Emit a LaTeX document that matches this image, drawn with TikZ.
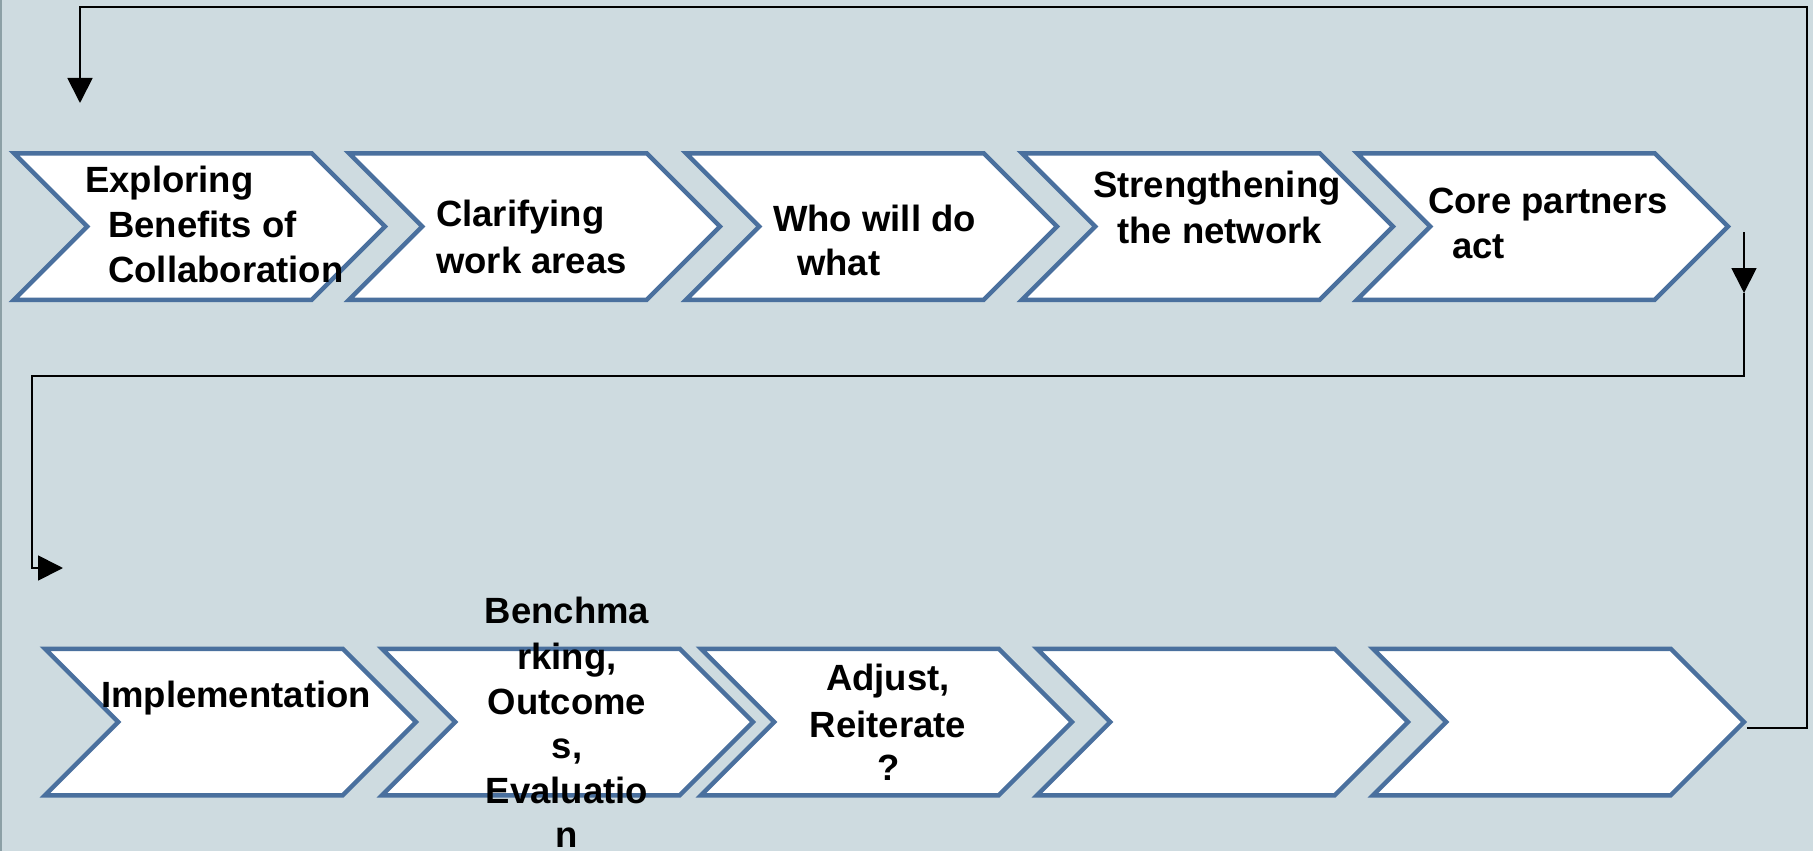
\documentclass[tikz,border=0pt]{standalone}
\usepackage{fontspec}
\setmainfont{Liberation Sans}
\usetikzlibrary{shapes.symbols,arrows.meta}
\definecolor{bgc}{RGB}{206,219,224}
\definecolor{chevc}{RGB}{74,112,158}
\definecolor{edgec}{RGB}{140,160,166}
\tikzset{
  chev/.style={signal, signal from=west, signal to=east, signal pointer angle=90,
    minimum width=371pt, minimum height=146.5pt, inner sep=0pt,
    draw=chevc, fill=white, line width=4.5pt, line join=miter},
  lbl/.style={inner sep=0pt, font=\bfseries\fontsize{36.5}{45}\selectfont, text=black},
  lw/.style={lbl, anchor=base west},
  lc/.style={lbl, anchor=base},
  conn/.style={draw=black, line width=1.8pt},
  tipa/.style={-{Triangle[length=25pt,width=25pt]}}
}
\begin{document}
\begin{tikzpicture}[x=1pt,y=-1pt]
\useasboundingbox (0,0) rectangle (1813,851);
\fill[bgc] (0,0) rectangle (1813,851);
\fill[edgec] (0,0) rectangle (2,851);
% top row
\node[chev] (c1) at (199.5,226.5) {};
\node[chev] (c2) at (534.5,226.5) {};
\node[chev] (c3) at (871.5,226.5) {};
\node[chev] (c4) at (1207.5,226.5) {};
\node[chev] (c5) at (1542.5,226.5) {};
% bottom row
\node[chev] (c6) at (230.5,722) {};
\node[chev] (c7) at (567.5,722) {};
\node[chev] (c8) at (886.5,722) {};
\node[chev] (c9) at (1222.5,722) {};
\node[chev] (c10) at (1558.5,722) {};
% labels
\node[lw] (t1a) at (85,192) {Exploring};
\node[lw] (t1b) at (108,237) {Benefits of};
\node[lw] (t1c) at (108,282) {Collaboration};
\node[lw] (t2a) at (436,226) {Clarifying};
\node[lw] (t2b) at (436,273) {work areas};
\node[lw] (t3a) at (773,231) {Who will do};
\node[lw] (t3b) at (797,275) {what};
\node[lw] (t4a) at (1093,197) {Strengthening};
\node[lw] (t4b) at (1117,243) {the network};
\node[lw] (t5a) at (1428,213) {Core partners};
\node[lw] (t5b) at (1452,258) {act};
\node[lw] (t6a) at (101,707) {Implementation};
\node[lc] (t7a) at (567,623) {Benchma};
\node[lc] (t7b) at (567,669) {rking,};
\node[lc] (t7c) at (567,714) {Outcome};
\node[lc] (t7d) at (567,758) {s,};
\node[lc] (t7e) at (567,803) {Evaluatio};
\node[lc] (t7f) at (567,847) {n};
\node[lc] (t8a) at (888,690) {Adjust,};
\node[lc] (t8b) at (888,737) {Reiterate};
\node[lc] (t8c) at (889,780) {?};
% connectors
\coordinate (topR) at (1807,7);
\coordinate (in1) at (80,103);
\draw[conn,tipa] (c10.east) ++(0,6) -| (topR) -| (in1);
\coordinate (d1) at (1744,232);
\coordinate (d2) at (1744,293);
\coordinate (d3) at (32,376);
\coordinate (d4) at (63,568);
\draw[conn,tipa] (d1) -- (d2);
\draw[conn,tipa] (d2) |- (d3) |- (d4);
\end{tikzpicture}
\end{document}
